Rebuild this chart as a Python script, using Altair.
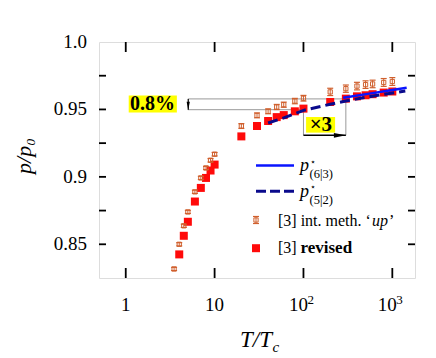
import altair as alt
import pandas as pd

# ---------------- data ----------------
T_up = [3.5, 4, 4.5, 5, 6, 7, 8, 9, 10, 20, 30, 40, 50, 60, 80, 100,
        200, 300, 400, 500, 600, 800, 1000]
p_up = [0.8317, 0.8500, 0.8637, 0.8740, 0.8889, 0.8992, 0.9066, 0.9123, 0.9168,
        0.9377, 0.9456, 0.9486, 0.9518, 0.9535, 0.9562, 0.9583,
        0.9630, 0.9654, 0.9673, 0.9684, 0.9689, 0.9700, 0.9707]
err_up = [0.0012, 0.0012, 0.0012, 0.0012, 0.0012, 0.0012, 0.0012, 0.0013, 0.0013,
          0.0018, 0.0018, 0.0018, 0.0019, 0.0019, 0.0020, 0.0021,
          0.0027, 0.0027, 0.0028, 0.0028, 0.0028, 0.0029, 0.0029]

T_rev = [4, 4.5, 5, 6, 7, 8, 9, 10, 20, 30, 40, 50, 60, 80, 100,
         200, 300, 400, 500, 600, 800, 1000]
p_rev = [0.8425, 0.8563, 0.8667, 0.8817, 0.8918, 0.8992, 0.9047, 0.9091,
         0.9300, 0.9377, 0.9414, 0.9443, 0.9458, 0.9486, 0.9506,
         0.9555, 0.9580, 0.9597, 0.9605, 0.9613, 0.9625, 0.9633]

T_63 = [280, 600, 1000, 1450]
p_63 = [0.9587, 0.9621, 0.9644, 0.9661]

T_52 = [40, 60, 100, 200, 300, 500, 800, 1400]
p_52 = [0.9399, 0.9437, 0.9493, 0.9538, 0.9562, 0.9590, 0.9612, 0.9636]

x_tick_vals = [1, 10, 100, 1000]
x_tick_base = ["1", "10", "10", "10"]
x_tick_sup = ["", "", "2", "3"]
y_tick_vals = [0.85, 0.875, 0.9, 0.925, 0.95, 0.975]
y_label_vals = [0.85, 0.9, 0.95, 1.0]
y_label_text = ["0.85", "0.9", "0.95", "1.0"]

# annotation (data coordinates)
ann_lines = pd.DataFrame({
    "T": [5.0, 5.0, 100, 300],
    "T2": [300, 100, 100, 300],
    "p": [0.9578, 0.9498, 0.9498, 0.9578],
    "p2": [0.9578, 0.9498, 0.9308, 0.9308],
})
arrow_h = pd.DataFrame({"T": [100], "T2": [300], "p": [0.9308]})
arrow_v = pd.DataFrame({"T": [5.05], "p": [0.9578], "p2": [0.9498]})
boxes = pd.DataFrame({"T": [1.08, 107], "T2": [3.76, 227],
                      "p": [0.9604, 0.9444], "p2": [0.9478, 0.9328]})
box_text = pd.DataFrame({"T": [2.0, 157], "p": [0.9541, 0.9386],
                         "label": ["0.8%", "×3"], "size": [20, 21]})

# ---------------- chart ----------------
FONT = "Liberation Serif"
W, H = 316, 236
ORANGE = "#d0602e"
RED = "#ff0a0a"
BLUE = "#0a14ff"
NAVY = "#0a0a8c"

xs = alt.Scale(type="log", domain=[0.5, 1800])
ys = alt.Scale(domain=[0.825, 1.0])

up = pd.DataFrame({"T": T_up, "p": p_up, "lo": [p - e for p, e in zip(p_up, err_up)],
                   "hi": [p + e for p, e in zip(p_up, err_up)]})
rev = pd.DataFrame({"T": T_rev, "p": p_rev})
l63 = pd.DataFrame({"T": T_63, "p": p_63})
l52 = pd.DataFrame({"T": T_52, "p": p_52})


def X(f="T"):
    return alt.X(f"{f}:Q", scale=xs, axis=None)


def Y(f="p"):
    return alt.Y(f"{f}:Q", scale=ys, axis=None)


# tick labels as text marks on the shared scales
xl = pd.DataFrame({"T": x_tick_vals, "base": x_tick_base, "sup": x_tick_sup})
xl_plain = xl[xl["sup"] == ""]
xl_pow = xl[xl["sup"] != ""]
yl = pd.DataFrame({"p": y_label_vals, "label": y_label_text})

labels = [
    alt.Chart(yl).mark_text(font=FONT, fontSize=19, align="right", baseline="middle",
                            color="black", dx=-12).encode(
        x=alt.value(0), y=Y(), text="label:N"),
    alt.Chart(xl_plain).mark_text(font=FONT, fontSize=19, align="center", baseline="top",
                                  color="black").encode(
        x=X(), y=alt.value(H + 18), text="base:N"),
    alt.Chart(xl_pow).mark_text(font=FONT, fontSize=19, align="center", baseline="top",
                                color="black", dx=-5).encode(
        x=X(), y=alt.value(H + 18), text="base:N"),
    alt.Chart(xl_pow).mark_text(font=FONT, fontSize=13, align="left", baseline="top",
                                color="black", dx=4).encode(
        x=X(), y=alt.value(H + 16), text="sup:N"),
]

# manual inward ticks
ytk = pd.DataFrame({"v": y_tick_vals})
xtk = pd.DataFrame({"v": x_tick_vals})
tick_style = dict(color="black", strokeWidth=1.8)
ticks = [
    alt.Chart(ytk).mark_rule(**tick_style).encode(x=alt.value(0), x2=alt.value(7), y=Y("v")),
    alt.Chart(ytk).mark_rule(**tick_style).encode(x=alt.value(W - 7), x2=alt.value(W), y=Y("v")),
    alt.Chart(xtk).mark_rule(**tick_style).encode(y=alt.value(H), y2=alt.value(H - 10), x=X("v")),
    alt.Chart(xtk).mark_rule(**tick_style).encode(y=alt.value(0), y2=alt.value(10), x=X("v")),
]

# annotations
ann = [
    alt.Chart(boxes).mark_rect(color="#ffff00").encode(x=X(), x2="T2:Q", y=Y(), y2="p2:Q"),
    alt.Chart(ann_lines).mark_rule(color="#999999", strokeWidth=1).encode(
        x=X(), x2="T2:Q", y=Y(), y2="p2:Q"),
    alt.Chart(arrow_h).mark_rule(color="black", strokeWidth=1.5).encode(
        x=X(), x2="T2:Q", y=Y()),
    alt.Chart(arrow_h).mark_point(shape="M-1,-0.4L1,0L-1,0.4Z", filled=True, color="black",
                                  size=144, opacity=1, xOffset=-6).encode(
        x=X("T2"), y=Y()),
    alt.Chart(arrow_v).mark_rule(color="black", strokeWidth=1.2).encode(
        x=X(), y=Y(), y2="p2:Q"),
    alt.Chart(arrow_v).mark_point(shape="M-0.4,-1L0,1L0.4,-1Z", filled=True, color="black",
                                  size=64, opacity=1, yOffset=-4).encode(
        x=X(), y=Y("p2")),
    alt.Chart(box_text).mark_text(font=FONT, fontWeight="bold", color="black",
                                  align="center", baseline="middle").encode(
        x=X(), y=Y(), text="label:N", size=alt.Size("size:Q", scale=None)),
]

# data marks
rev_pts = alt.Chart(rev).mark_point(shape="square", filled=True, color=RED, size=64,
                                    opacity=1).encode(x=X(), y=Y())
up_bar = alt.Chart(up).mark_rule(color=ORANGE, strokeWidth=1).encode(x=X(), y=Y("lo"), y2="hi:Q")
up_cap1 = alt.Chart(up).mark_tick(color=ORANGE, orient="horizontal", size=6, thickness=1.2,
                                  opacity=1).encode(x=X(), y=Y("lo"))
up_cap2 = alt.Chart(up).mark_tick(color=ORANGE, orient="horizontal", size=6, thickness=1.2,
                                  opacity=1).encode(x=X(), y=Y("hi"))
up_pts = alt.Chart(up).mark_point(shape="square", filled=False, color=ORANGE, size=18,
                                  strokeWidth=1, opacity=1).encode(x=X(), y=Y())
line63 = alt.Chart(l63).mark_line(color=BLUE, strokeWidth=2.4).encode(x=X(), y=Y())
line52 = alt.Chart(l52).mark_line(color=NAVY, strokeWidth=3, strokeDash=[10, 5]).encode(
    x=X(), y=Y())

# legend (pixel positions inside the plot frame)
one = pd.DataFrame({"a": [0]})
lx0, lx1 = 157, 195


def txt(s, x, y, size=16, style="normal", weight="normal", baseline="alphabetic",
        align="left", font=FONT, angle=0):
    return alt.Chart(one).mark_text(text=s, font=font, fontSize=size, fontStyle=style,
                                    fontWeight=weight, baseline=baseline, align=align,
                                    color="black", angle=angle).encode(
        x=alt.value(x), y=alt.value(y))


legend = [
    alt.Chart(one).mark_rule(color=BLUE, strokeWidth=2.4).encode(
        x=alt.value(lx0), x2=alt.value(lx1), y=alt.value(123.5)),
    alt.Chart(one).mark_rule(color=NAVY, strokeWidth=3, strokeDash=[10, 4]).encode(
        x=alt.value(lx0), x2=alt.value(lx1), y=alt.value(149.2)),
    txt("p", 201, 129.2, size=18, style="italic"),
    txt("⋆", 214, 119.5, size=9.5, font="DejaVu Sans", baseline="middle", align="center"),
    txt("(6|3)", 210.5, 136, size=12.5),
    txt("p", 201, 154.8, size=18, style="italic"),
    txt("⋆", 214, 145, size=9.5, font="DejaVu Sans", baseline="middle", align="center"),
    txt("(5|2)", 210.5, 161.5, size=12.5),
    # orange error marker
    alt.Chart(one).mark_rule(color=ORANGE, strokeWidth=1).encode(
        x=alt.value(157), y=alt.value(174.5), y2=alt.value(181.5)),
    alt.Chart(one).mark_rule(color=ORANGE, strokeWidth=1.2).encode(
        x=alt.value(154), x2=alt.value(160), y=alt.value(174.5)),
    alt.Chart(one).mark_rule(color=ORANGE, strokeWidth=1.2).encode(
        x=alt.value(154), x2=alt.value(160), y=alt.value(181.5)),
    alt.Chart(one).mark_point(shape="square", filled=False, color=ORANGE, size=18,
                              strokeWidth=1, opacity=1).encode(
        x=alt.value(157), y=alt.value(178)),
    txt("[3] int. meth. ‘", 179, 178.5, baseline="middle"),
    txt("up", 273, 178.5, style="italic", baseline="middle"),
    txt("’", 290, 178.5, baseline="middle"),
    alt.Chart(one).mark_point(shape="square", filled=True, color=RED, size=64,
                              opacity=1).encode(x=alt.value(157), y=alt.value(206.2)),
    txt("[3]", 179, 206.2, baseline="middle"),
    txt("revised", 201.5, 206.2, size=17, weight="bold", baseline="middle"),
]

# axis titles
titles = [
    txt("p/p₀", -75, 114, size=22, style="italic", baseline="middle",
        align="center", angle=270),
    txt("T/T", 173, 305, size=23, style="italic", align="right"),
    txt("c", 173.5, 309.5, size=15, style="italic"),
]

chart = alt.layer(
    *ann, rev_pts, up_bar, up_cap1, up_cap2, up_pts, line52, line63,
    *ticks, *labels, *legend, *titles
).properties(
    width=W, height=H,
    padding={"left": 91, "top": 34, "right": 13, "bottom": 90},
    autosize=alt.AutoSizeParams(type="none"),
).configure_view(stroke="black", strokeWidth=2).configure(background="white")

chart.save("out.html", embed_options={"renderer": "svg", "actions": False})
